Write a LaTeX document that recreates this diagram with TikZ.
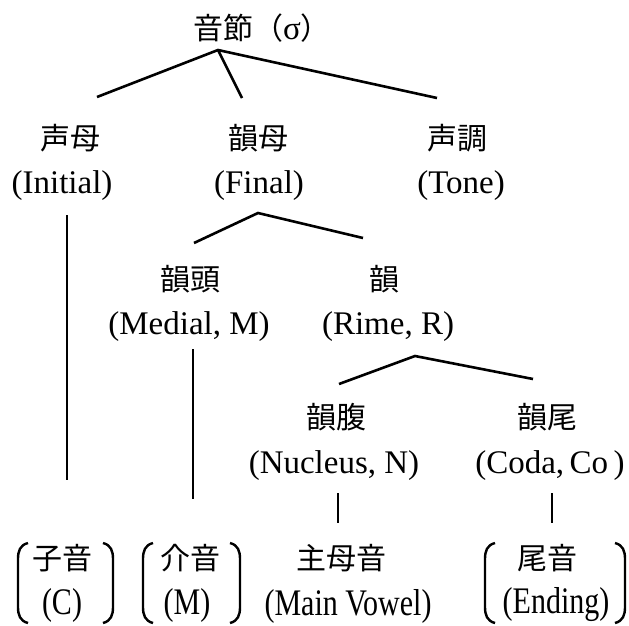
\documentclass[tikz,border=0pt]{standalone}
\usepackage{fontspec}
\setmainfont{Liberation Serif}
\newfontfamily\cjk{Noto Sans CJK JP}
\newcommand\tallbox[1]{\scalebox{1}[1.25]{#1}}
\begin{document}
\begin{tikzpicture}[x=1pt,y=-1pt,
  zh/.style={inner sep=0pt,font=\cjk\fontsize{30}{30}\selectfont},
  en/.style={inner sep=0pt,font=\fontsize{33}{33}\selectfont},
  enb/.style={inner sep=0pt,font=\fontsize{30}{30}\selectfont},
  edge/.style={line width=2.6pt},
  brk/.style={line width=2.4pt}]
\useasboundingbox (0,0) rectangle (629,625);
% top
\node[zh] (syl) at (262,28) {音節（\rmfamily\fontsize{33}{33}\selectfont σ\cjk\fontsize{30}{30}\selectfont ）};
% level 1
\node[zh] (ini) at (70,138) {声母};
\node[en] (inie) at (62,186) {(Initial)};
\node[zh] (fin) at (258,138) {韻母};
\node[en] (fine) at (259,186) {(Final)};
\node[zh] (ton) at (457,138) {声調};
\node[en] (tone) at (461,186) {(Tone)};
% level 2
\node[zh] (med) at (190,279) {韻頭};
\node[en] (mede) at (189,327) {(Medial, M)};
\node[zh] (rim) at (384,279) {韻};
\node[en] (rime) at (388,327) {(Rime, R)};
% level 3
\node[zh] (nuc) at (336,417) {韻腹};
\node[en] (nuce) at (334,466) {(Nucleus, N)};
\node[zh] (cod) at (547,417) {韻尾};
\node[en] (code) at (550,466) {(Coda,\,Co\,)};
% level 4
\node[zh] (con) at (62,558) {子音};
\node[enb] (cone) at (62,605) {\tallbox{(C)}};
\node[zh] (mdl) at (190,558) {介音};
\node[enb] (mdle) at (187,605) {\tallbox{(M)}};
\node[zh] (mv) at (341,558) {主母音};
\node[enb] (mve) at (348,606) {\tallbox{(Main Vowel)}};
\node[zh] (end) at (547,558) {尾音};
\node[enb] (ende) at (556,605) {\tallbox{(Ending)}};
% connector coordinates
\coordinate (a0) at (218,50);
\coordinate (a0l) at (97,97);
\coordinate (a0m) at (242,98);
\coordinate (a0r) at (437,98);
\coordinate (i1) at (67,215);
\coordinate (i2) at (67,480);
\coordinate (a1) at (258,213);
\coordinate (a1l) at (194,243);
\coordinate (a1r) at (363,238);
\coordinate (m1) at (193,349);
\coordinate (m2) at (193,499);
\coordinate (a2) at (415,356);
\coordinate (a2l) at (339,384);
\coordinate (a2r) at (533,379);
\coordinate (n1) at (338,493);
\coordinate (n2) at (338,523);
\coordinate (c1) at (552,493);
\coordinate (c2) at (552,523);
\draw[edge] (a0l) -- (a0) -- (a0r);
\draw[edge] (a0) -- (a0m);
\draw[edge] (i1) -- (i2);
\draw[edge] (a1l) -- (a1) -- (a1r);
\draw[edge] (m1) -- (m2);
\draw[edge] (a2l) -- (a2) -- (a2r);
\draw[edge] (n1) -- (n2);
\draw[edge] (c1) -- (c2);
% brackets
\draw[brk] (28,543) .. controls (20,545) and (18,551) .. (18,559) -- (18,607) .. controls (18,615) and (20,621) .. (28,623);
\draw[brk] (103,543) .. controls (111,545) and (113,551) .. (113,559) -- (113,607) .. controls (113,615) and (111,621) .. (103,623);
\draw[brk] (153,543) .. controls (145,545) and (143,551) .. (143,559) -- (143,607) .. controls (143,615) and (145,621) .. (153,623);
\draw[brk] (230,543) .. controls (238,545) and (240,551) .. (240,559) -- (240,607) .. controls (240,615) and (238,621) .. (230,623);
\draw[brk] (495,543) .. controls (487,545) and (485,551) .. (485,559) -- (485,607) .. controls (485,615) and (487,621) .. (495,623);
\draw[brk] (615,543) .. controls (623,545) and (625,551) .. (625,559) -- (625,607) .. controls (625,615) and (623,621) .. (615,623);
\end{tikzpicture}
\end{document}
